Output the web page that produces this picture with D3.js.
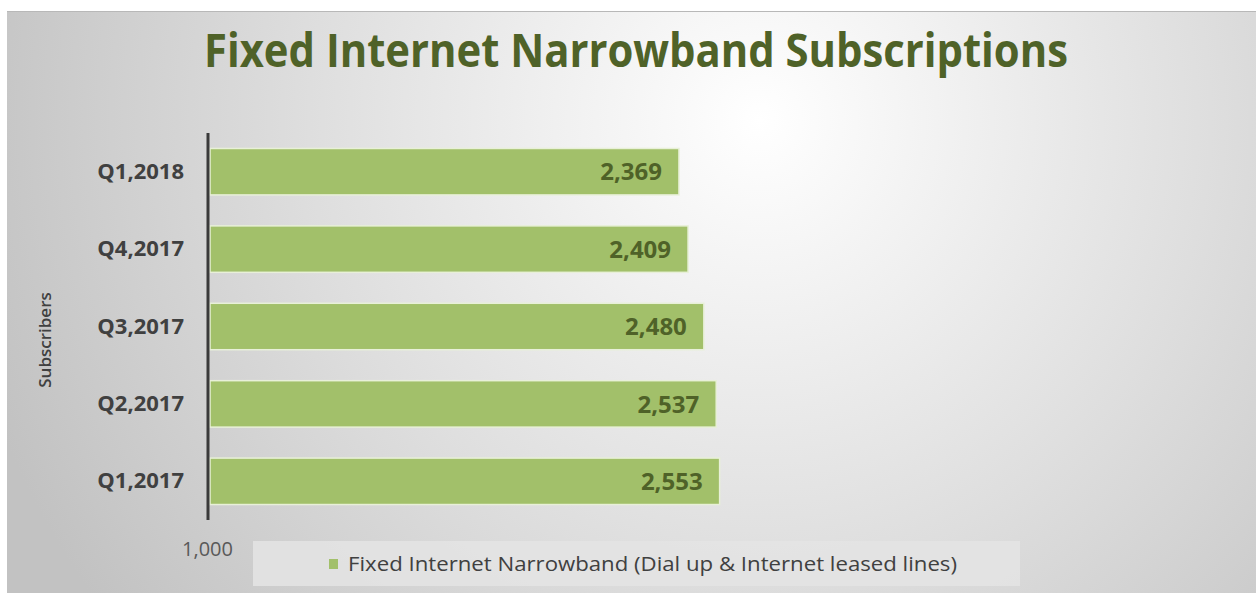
<!DOCTYPE html>
<html>
<head>
<meta charset="utf-8">
<script src="https://cdn.jsdelivr.net/npm/d3@7"></script>
<style>
  body { margin: 0; background: #fff; }
  svg { display: block; font-family: "Open Sans", "Noto Sans", sans-serif; }
</style>
</head>
<body>
<div id="chart"></div>
<script>
// data
var quarters = ["Q1,2018", "Q4,2017", "Q3,2017", "Q2,2017", "Q1,2017"];
var subscribers = [2369, 2409, 2480, 2537, 2553];
var xTicks = [1000];
var seriesName = "Fixed Internet Narrowband (Dial up & Internet leased lines)";

var W = 1256, H = 595;

var svg = d3.select("#chart").append("svg")
    .attr("width", W)
    .attr("height", H);

// background gradient like the excel chart area
var defs = svg.append("defs");
var grad = defs.append("radialGradient")
    .attr("id", "bg")
    .attr("gradientUnits", "userSpaceOnUse")
    .attr("cx", 760).attr("cy", 120).attr("r", 820);
grad.append("stop").attr("offset", 0).attr("stop-color", "#ffffff");
grad.append("stop").attr("offset", 0.55).attr("stop-color", "#dedede");
grad.append("stop").attr("offset", 1).attr("stop-color", "#c2c2c2");

svg.append("rect")
    .attr("x", 7).attr("y", 11)
    .attr("width", W - 7).attr("height", H - 13)
    .attr("fill", "url(#bg)");
svg.append("line")
    .attr("x1", 7).attr("x2", W).attr("y1", 11.5).attr("y2", 11.5)
    .attr("stroke", "#b8b8b8").attr("stroke-width", 1);

// title
svg.append("text")
    .attr("x", 636).attr("y", 67)
    .attr("text-anchor", "middle")
    .attr("textLength", 864)
    .attr("lengthAdjust", "spacingAndGlyphs")
    .style("font-size", "47px")
    .style("font-weight", "bold")
    .style("fill", "#4f6228")
    .text("Fixed Internet Narrowband Subscriptions");

// scales
var x = d3.scaleLog()
    .domain([1000, 10000])
    .range([210, 1462]);

var y = d3.scaleBand()
    .domain(quarters)
    .range([133, 520])
    .paddingInner(0.4)
    .paddingOuter(0.2);

// bars
svg.append("g")
  .selectAll("rect")
  .data(quarters)
  .enter()
  .append("rect")
    .attr("x", x(1000))
    .attr("y", function(d) { return y(d); })
    .attr("width", function(d, i) { return x(subscribers[i]) - x(1000); })
    .attr("height", y.bandwidth())
    .attr("fill", "#a2c06a")
    .attr("stroke", "#e8f0d8")
    .attr("stroke-width", 1.5);

// value labels inside bars
svg.append("g")
  .selectAll("text")
  .data(quarters)
  .enter()
  .append("text")
    .attr("x", function(d, i) { return x(subscribers[i]) - 17; })
    .attr("y", function(d) { return y(d) + y.bandwidth() / 2; })
    .attr("dy", "0.36em")
    .attr("text-anchor", "end")
    .style("font-size", "24px")
    .style("font-weight", "bold")
    .style("fill", "#4f6228")
    .text(function(d, i) { return d3.format(",")(subscribers[i]); });

// category axis
var yAxis = svg.append("g")
    .attr("transform", "translate(208,0)")
    .call(d3.axisLeft(y).tickSize(0).tickPadding(24));
yAxis.select(".domain").remove();
yAxis.selectAll("text")
    .style("font-size", "22px")
    .style("font-weight", "bold")
    .style("font-family", "'Open Sans', sans-serif")
    .style("fill", "#404040");

svg.append("line")
    .attr("x1", 208).attr("x2", 208)
    .attr("y1", 133).attr("y2", 520)
    .attr("stroke", "#3a3a3a").attr("stroke-width", 3);

// value axis, only the start tick shows
var xAxis = svg.append("g")
    .attr("transform", "translate(-3,538)")
    .call(d3.axisBottom(x).tickValues(xTicks).tickSize(0).tickPadding(4).tickFormat(d3.format(",")));
xAxis.select(".domain").remove();
xAxis.selectAll("text")
    .style("font-size", "20px")
    .style("font-family", "'Open Sans', sans-serif")
    .style("fill", "#595959");

// axis title
svg.append("text")
    .attr("transform", "translate(51,340) rotate(-90)")
    .attr("text-anchor", "middle")
    .style("font-size", "17px")
    .style("font-weight", 600)
    .style("fill", "#404040")
    .text("Subscribers");

// legend
var legend = svg.append("g");
legend.append("rect")
    .attr("x", 253).attr("y", 541)
    .attr("width", 767).attr("height", 45)
    .attr("fill", "#e4e4e4")
    .attr("opacity", 0.85);
legend.append("rect")
    .attr("x", 329).attr("y", 559)
    .attr("width", 9).attr("height", 10)
    .attr("fill", "#a2c06a");
legend.append("text")
    .attr("x", 348).attr("y", 564)
    .attr("dy", "0.36em")
    .attr("textLength", 609)
    .attr("lengthAdjust", "spacingAndGlyphs")
    .style("font-size", "20px")
    .style("fill", "#404040")
    .text(seriesName);
</script>
</body>
</html>
